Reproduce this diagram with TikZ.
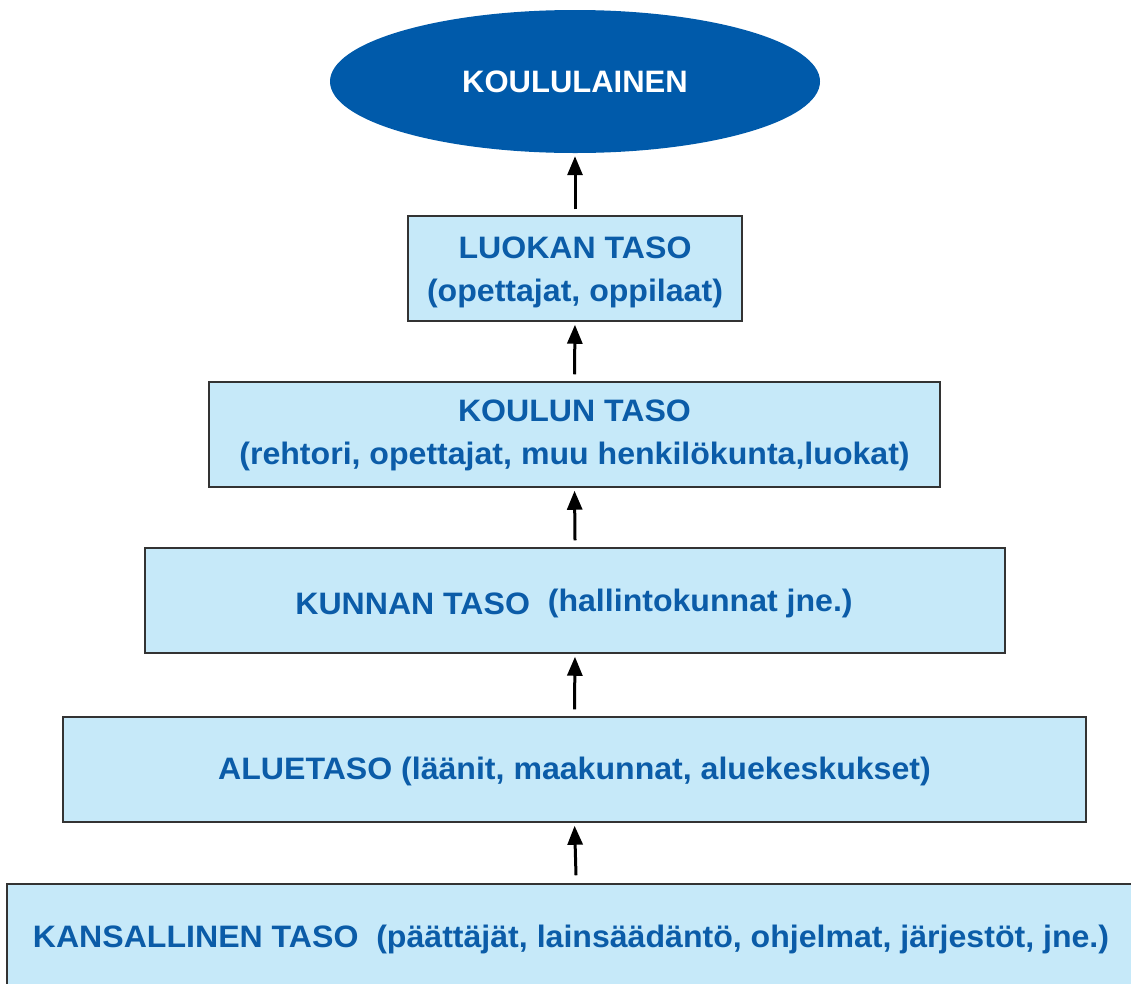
\documentclass[tikz,border=0pt]{standalone}
\usepackage{fontspec}
\setmainfont{Liberation Sans}
\newfontfamily\boxfont[FakeStretch=1.035]{Liberation Sans}
\usetikzlibrary{arrows.meta,shapes.geometric}
\definecolor{txtblue}{HTML}{0B5CA8}
\definecolor{ellblue}{HTML}{005AAA}
\definecolor{boxfill}{HTML}{C6E9F9}
\definecolor{edge}{HTML}{333333}
\tikzset{
  levelbox/.style={draw=edge, line width=1.5pt, fill=boxfill, rectangle, minimum height=105pt, inner sep=0pt},
  levellabel/.style={inner sep=0pt, align=center, text=txtblue, font=\boxfont\bfseries\fontsize{31}{43}\selectfont},
  topell/.style={ellipse, fill=ellblue, minimum width=490pt, minimum height=143pt, inner sep=0pt,
    text=white, font=\bfseries\fontsize{31}{42}\selectfont},
  uparrow/.style={-{Triangle[length=19pt,width=15pt]}, line width=3pt, black, shorten >=3pt}
}
\begin{document}
\begin{tikzpicture}[x=1pt,y=-1pt]
\useasboundingbox (0,0) rectangle (1131,983);
\clip (0,0) rectangle (1131,983);
\node[topell] (e) at (575,81.5) {KOULULAINEN};
\node[levelbox, minimum width=334pt] (b1) at (575,268.5) {};
\node[levelbox, minimum width=731pt] (b2) at (574.5,434.5) {};
\node[levelbox, minimum width=860pt] (b3) at (575,600.5) {};
\node[levelbox, minimum width=1023pt] (b4) at (574.5,769.5) {};
\node[levelbox, minimum width=1138pt, minimum height=106pt] (b5) at (576,937) {};
\node[levellabel] (t1) at ([yshift=-4pt]b1.center) {LUOKAN TASO\\(opettajat, oppilaat)};
\node[levellabel] (t2) at ([yshift=-1pt]b2.center) {KOULUN TASO\\(rehtori, opettajat, muu henkilökunta,luokat)};
\node[levellabel] (t3) at ([xshift=-1pt,yshift=-3pt]b3.center) {\raisebox{-3pt}{KUNNAN TASO}\ \ (hallintokunnat jne.)};
\node[levellabel] (t4) at ([yshift=-2pt]b4.center) {ALUETASO (läänit, maakunnat, aluekeskukset)};
\node[levellabel] (t5) at ([xshift=-5pt,yshift=-2pt]b5.center) {KANSALLINEN TASO\ \ (päättäjät, lainsäädäntö, ohjelmat, järjestöt, jne.)};
\draw[uparrow] ([yshift=6pt]b1.north) -- (e.south);
\draw[uparrow] ([yshift=7pt]b2.north) -- (b1.south);
\draw[uparrow] ([yshift=7pt]b3.north) -- (b2.south);
\draw[uparrow] ([yshift=7pt]b4.north) -- (b3.south);
\draw[uparrow] ([yshift=8pt]b5.north) -- (b4.south);
\end{tikzpicture}
\end{document}
